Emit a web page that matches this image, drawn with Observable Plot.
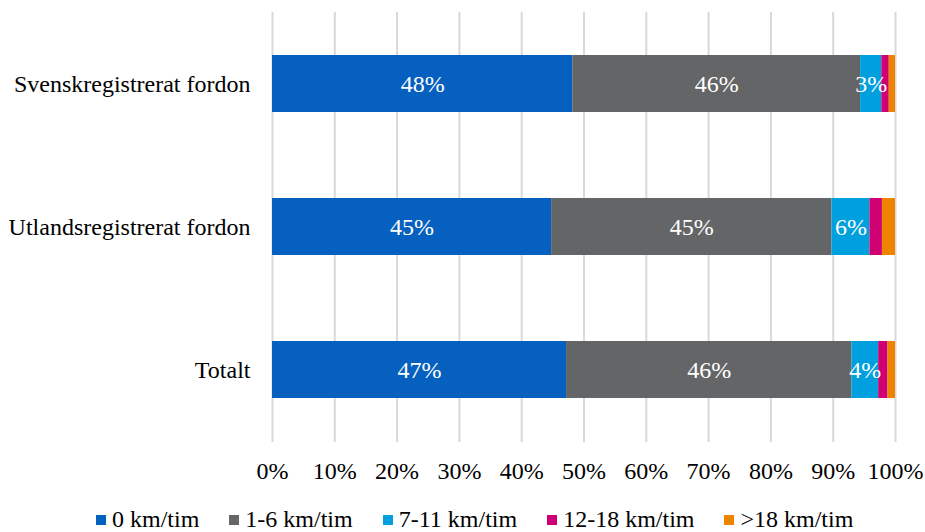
<!DOCTYPE html>
<html>
<head>
<meta charset="utf-8">
<script src="https://cdn.jsdelivr.net/npm/d3@7"></script>
<script src="https://cdn.jsdelivr.net/npm/@observablehq/plot@0.6"></script>
<style>
  html, body { margin: 0; padding: 0; background: #fff; }
  body { width: 925px; height: 532px; overflow: hidden; font-family: "Liberation Serif", "Times New Roman", Times, "DejaVu Serif", serif; }
  #chart svg, #chart svg text { font-family: "Liberation Serif", "Times New Roman", Times, "DejaVu Serif", serif; }
  #legend { display: flex; align-items: center; padding-left: 96px; gap: 30px; margin-top: 16px; font-size: 24px; color: #000; }
  #legend .item { display: flex; align-items: center; gap: 6px; white-space: nowrap; }
  #legend .sw { width: 10px; height: 10px; display: inline-block; }
</style>
</head>
<body>
<div id="chart"></div>
<div id="legend"></div>
<script>
// Vehicle groups (rows) and speed classes (stack segments)
const categories = ["Svenskregistrerat fordon", "Utlandsregistrerat fordon", "Totalt"];
const speeds = ["0 km/tim", "1-6 km/tim", "7-11 km/tim", "12-18 km/tim", ">18 km/tim"];
const colors = ["#0560BF", "#646567", "#00A0DF", "#CF0072", "#EE8300"];

// Share (%) per speed class, one value per vehicle group
const speed0 = [48.2, 44.8, 47.2];
const speed1to6 = [46.2, 45.0, 45.8];
const speed7to11 = [3.4, 6.1, 4.3];
const speed12to18 = [1.2, 2.0, 1.5];
const speedOver18 = [1.0, 2.1, 1.2];

const xTicks = [0, 10, 20, 30, 40, 50, 60, 70, 80, 90, 100];

const series = [speed0, speed1to6, speed7to11, speed12to18, speedOver18];
const rows = [];
series.forEach((vals, si) => {
  vals.forEach((v, ci) => rows.push({cat: categories[ci], speed: speeds[si], value: v}));
});

const serif = "'Liberation Serif', 'Times New Roman', Times, 'DejaVu Serif', serif";

const chart = Plot.plot({
  width: 925,
  height: 490,
  marginLeft: 272,
  marginRight: 30,
  marginTop: 12,
  marginBottom: 48,
  style: {fontFamily: serif, fontSize: "24px", color: "#000", background: "#fff"},
  x: {domain: [0, 100], ticks: xTicks, tickFormat: d => d + "%"},
  y: {domain: categories, paddingInner: 0.6, paddingOuter: 0.3},
  color: {domain: speeds, range: colors},
  marks: [
    Plot.ruleX(xTicks, {stroke: "#d9d9d9", strokeWidth: 2}),
    Plot.barX(rows, Plot.stackX({x: "value", y: "cat", fill: "speed", order: speeds})),
    Plot.text(rows, Plot.stackX({
      x: "value", y: "cat", z: "speed", order: speeds,
      text: d => d.value >= 3 ? Math.round(d.value) + "%" : "",
      fill: "white", fontSize: 24
    })),
    Plot.axisX({ticks: xTicks, tickFormat: d => d + "%", tickSize: 0, tickPadding: 19, fontSize: 24, label: null}),
    Plot.axisY({tickSize: 0, tickPadding: 22, fontSize: 24, label: null})
  ]
});
document.getElementById("chart").appendChild(chart);

// Legend below the chart
const legend = document.getElementById("legend");
speeds.forEach((s, i) => {
  const item = document.createElement("span");
  item.className = "item";
  const sw = document.createElement("span");
  sw.className = "sw";
  sw.style.background = colors[i];
  const label = document.createElement("span");
  label.textContent = s;
  item.appendChild(sw);
  item.appendChild(label);
  legend.appendChild(item);
});
</script>
</body>
</html>
